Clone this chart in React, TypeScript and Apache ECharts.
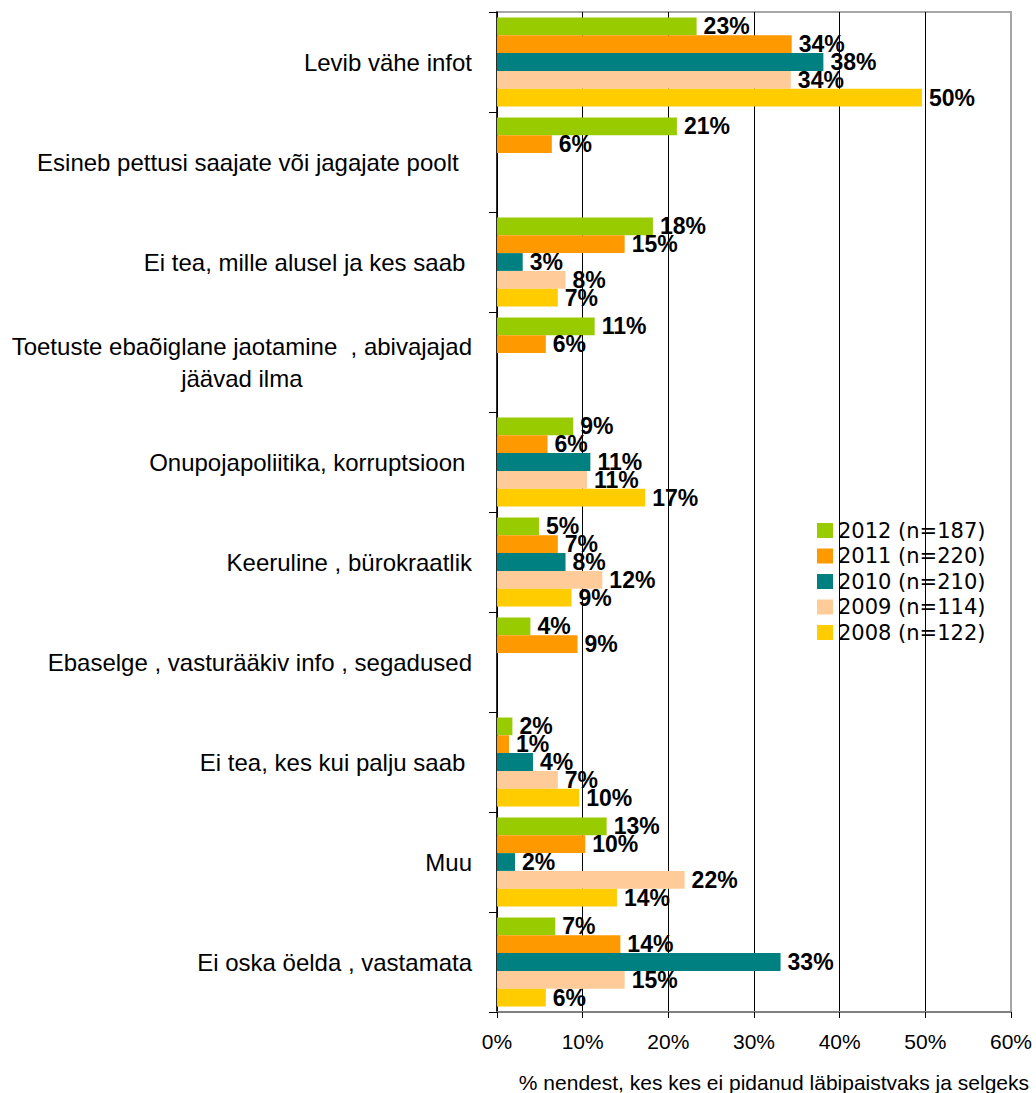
import React, { useEffect, useRef } from "react";
import * as echarts from "echarts";

const categories = [
  "Levib vähe infot",
  "Esineb pettusi saajate või jagajate poolt  ",
  "Ei tea, mille alusel ja kes saab ",
  "Toetuste ebaõiglane jaotamine  , abivajajad\njäävad ilma",
  "Onupojapoliitika, korruptsioon ",
  "Keeruline , bürokraatlik",
  "Ebaselge , vasturääkiv info , segadused",
  "Ei tea, kes kui palju saab ",
  "Muu",
  "Ei oska öelda , vastamata",
];

const seriesNames = ["2012 (n=187)", "2011 (n=220)", "2010 (n=210)", "2009 (n=114)", "2008 (n=122)"];
const seriesColors = ["#99CC00", "#FF9900", "#008080", "#FFCC99", "#FFCC00"];

const s2012 = [23.3, 21.0, 18.2, 11.4, 8.9, 4.9, 3.9, 1.8, 12.8, 6.8];
const s2011 = [34.4, 6.4, 14.9, 5.7, 5.9, 7.1, 9.4, 1.4, 10.3, 14.4];
const s2010 = [38.1, null, 3.0, null, 10.9, 8.0, null, 4.2, 2.1, 33.1];
const s2009 = [34.3, null, 8.0, null, 10.5, 12.3, null, 7.1, 21.9, 14.9];
const s2008 = [49.6, null, 7.1, null, 17.3, 8.7, null, 9.6, 14.0, 5.7];

const xTicks = [0, 10, 20, 30, 40, 50, 60];
const xAxisName = "% nendest, kes kes ei pidanud läbipaistvaks ja selgeks";

const FONT = "'Liberation Sans', Arial, sans-serif";

export default function App() {
  const ref = useRef<HTMLDivElement>(null);
  useEffect(() => {
    document.body.style.margin = "0";
    const chart = echarts.init(ref.current!, undefined, { renderer: "svg" });
    const data = [s2012, s2011, s2010, s2009, s2008];
    chart.setOption({
      animation: false,
      backgroundColor: "#ffffff",
      textStyle: { fontFamily: FONT },
      grid: {
        left: 497,
        right: 25,
        top: 12,
        bottom: 79,
        show: true,
        borderColor: "#a6a6a6",
        borderWidth: 2,
        backgroundColor: "transparent",
      },
      legend: {
        orient: "vertical",
        left: 812,
        top: 515,
        itemWidth: 16,
        itemHeight: 15,
        itemGap: 4.5,
        icon: "rect",
        data: seriesNames,
        textStyle: {
          fontFamily: "'DejaVu Sans', sans-serif",
          fontSize: 21,
          lineHeight: 21,
          color: "#000",
        },
      },
      xAxis: {
        type: "value",
        min: xTicks[0],
        max: xTicks[xTicks.length - 1],
        interval: 10,
        name: xAxisName,
        nameLocation: "end",
        nameGap: 18,
        nameTextStyle: {
          fontFamily: FONT,
          fontSize: 21,
          color: "#000",
          align: "right",
          verticalAlign: "top",
          padding: [60, 0, 0, 0],
        },
        axisLine: { show: true, lineStyle: { color: "#808080", width: 2 } },
        axisTick: { show: true, length: 6, lineStyle: { color: "#000", width: 1 } },
        axisLabel: {
          formatter: "{value}%",
          fontFamily: FONT,
          fontSize: 21,
          color: "#000",
          margin: 19,
        },
        splitLine: { show: true, showMaxLine: false, lineStyle: { color: "#000", width: 1 } },
      },
      yAxis: {
        type: "category",
        inverse: true,
        data: categories,
        axisLine: { show: true, lineStyle: { color: "#000", width: 1.5 } },
        axisTick: { show: true, length: 8, lineStyle: { color: "#000", width: 1 } },
        axisLabel: {
          fontFamily: FONT,
          fontSize: 24,
          color: "#000",
          margin: 25,
          lineHeight: 32,
          formatter: (v: string) => {
            if (v.indexOf("\n") >= 0) {
              const parts = v.split("\n");
              return "{a|" + parts[0] + "}\n{b|" + parts[1] + "}";
            }
            return v;
          },
          rich: {
            a: { fontFamily: FONT, fontSize: 24, color: "#000", lineHeight: 32 },
            b: { fontFamily: FONT, fontSize: 24, color: "#000", lineHeight: 32, width: 460, align: "center" },
          },
        },
        splitLine: { show: false },
      },
      series: seriesNames.map((name, i) => ({
        name,
        type: "bar",
        data: data[i],
        barGap: "0%",
        barCategoryGap: "11%",
        itemStyle: { color: seriesColors[i] },
        label: {
          show: true,
          position: "right",
          distance: 7,
          formatter: (p: any) => Math.round(p.value) + "%",
          fontFamily: FONT,
          fontSize: 23,
          fontWeight: "bold",
          color: "#000",
        },
      })),
    });
    return () => chart.dispose();
  }, []);
  return (
    <div
      ref={ref}
      style={{ position: "absolute", left: 0, top: 0, width: 1036, height: 1093 }}
    />
  );
}
